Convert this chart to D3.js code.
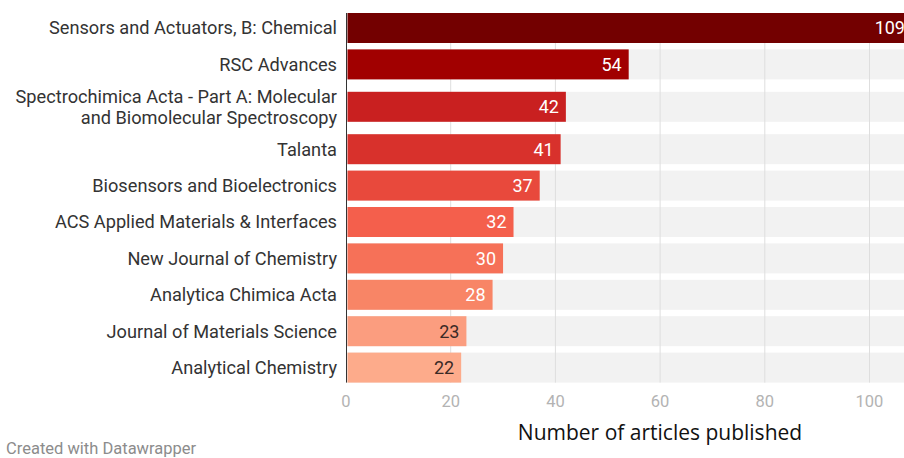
<!DOCTYPE html>
<html>
<head>
<meta charset="utf-8">
<script src="https://cdn.jsdelivr.net/npm/d3@7"></script>
<style>
  body { margin: 0; background: #fff; }
  svg { display: block; }
</style>
</head>
<body>
<div id="chart"></div>
<script>
const journals = [
  ["Sensors and Actuators, B: Chemical"],
  ["RSC Advances"],
  ["Spectrochimica Acta - Part A: Molecular", "and Biomolecular Spectroscopy"],
  ["Talanta"],
  ["Biosensors and Bioelectronics"],
  ["ACS Applied Materials & Interfaces"],
  ["New Journal of Chemistry"],
  ["Analytica Chimica Acta"],
  ["Journal of Materials Science"],
  ["Analytical Chemistry"]
];
const articles = [109, 54, 42, 41, 37, 32, 30, 28, 23, 22];
const barColors = ["#730000", "#a10000", "#c92020", "#d8312c", "#e8493c", "#f45f4c", "#f67158",
                   "#f88566", "#fb9d7f", "#fdab8b"];
const tickValues = [0, 20, 40, 60, 80, 100];

const W = 904, H = 458;
const x0 = 346;

const svg = d3.select("#chart").append("svg")
    .attr("width", W)
    .attr("height", H)
    .style("font-family", "Roboto, 'Noto Sans', sans-serif");

const x = d3.scaleLinear().domain([0, 100]).range([x0, 869.5]);

const idx = d3.range(articles.length);
const step = 36.4;
const y = d3.scaleBand()
    .domain(idx)
    .range([13, 13 + step * articles.length])
    .padding(0);
// extra room around the two-line label
const yOff = i => i >= 3 ? 12 : (i >= 2 ? 6 : 0);
const barY = i => y(i) + yOff(i);
const bh = 30;

// grey row backgrounds
svg.selectAll(".bg")
  .data(idx)
  .join("rect")
    .attr("x", x0)
    .attr("y", i => barY(i))
    .attr("width", W - x0)
    .attr("height", bh)
    .attr("fill", "#f2f2f2");

// gridlines
svg.selectAll(".grid")
  .data(tickValues.slice(1))
  .join("line")
    .attr("x1", d => x(d)).attr("x2", d => x(d))
    .attr("y1", barY(0)).attr("y2", barY(9) + bh)
    .attr("stroke", "#dedede")
    .attr("stroke-width", 1);

// bars
svg.selectAll(".bar")
  .data(idx)
  .join("rect")
    .attr("x", x(0) + 1.5)
    .attr("y", i => barY(i))
    .attr("width", i => x(articles[i]) - x(0) - 1.5)
    .attr("height", bh)
    .attr("fill", i => barColors[i]);

// baseline
svg.append("line")
  .attr("x1", x0 + 0.5).attr("x2", x0 + 0.5)
  .attr("y1", barY(0)).attr("y2", barY(9) + bh)
  .attr("stroke", "#333")
  .attr("stroke-width", 1);

// value labels (the longest bar runs past the frame, its label is nudged in)
svg.selectAll(".val")
  .data(idx)
  .join("text")
    .attr("x", i => Math.min(x(articles[i]) - 7, W + 1))
    .attr("y", i => barY(i) + bh / 2)
    .attr("dy", "0.35em")
    .attr("text-anchor", "end")
    .attr("font-size", 18)
    .attr("fill", i => articles[i] <= 23 ? "#3a2a26" : "#fff")
    .text(i => articles[i]);

// category labels
const lab = svg.selectAll(".lab")
  .data(idx)
  .join("text")
    .attr("x", 337)
    .attr("y", i => barY(i) + bh / 2)
    .attr("text-anchor", "end")
    .attr("font-size", 18.2)
    .attr("fill", "#333");
lab.each(function(i) {
  const lines = journals[i];
  const t = d3.select(this);
  lines.forEach((l, k) => {
    t.append("tspan")
      .attr("x", 337)
      .attr("dy", k === 0 ? ((0.35 - (lines.length - 1) * 0.58) + "em") : "1.16em")
      .text(l);
  });
});

// x tick labels
svg.selectAll(".tick")
  .data(tickValues)
  .join("text")
    .attr("x", d => x(d))
    .attr("y", 407)
    .attr("text-anchor", "middle")
    .attr("font-size", 16.5)
    .attr("fill", "#b3b3b3")
    .text(d => d);

// axis title
svg.append("text")
  .attr("x", 660)
  .attr("y", 440)
  .attr("text-anchor", "middle")
  .attr("font-family", "'Open Sans', sans-serif")
  .attr("font-size", 21)
  .attr("fill", "#111")
  .text("Number of articles published");

svg.append("text")
  .attr("x", 6)
  .attr("y", 454)
  .attr("font-size", 16.5)
  .attr("fill", "#8c8c8c")
  .text("Created with Datawrapper");
</script>
</body>
</html>
